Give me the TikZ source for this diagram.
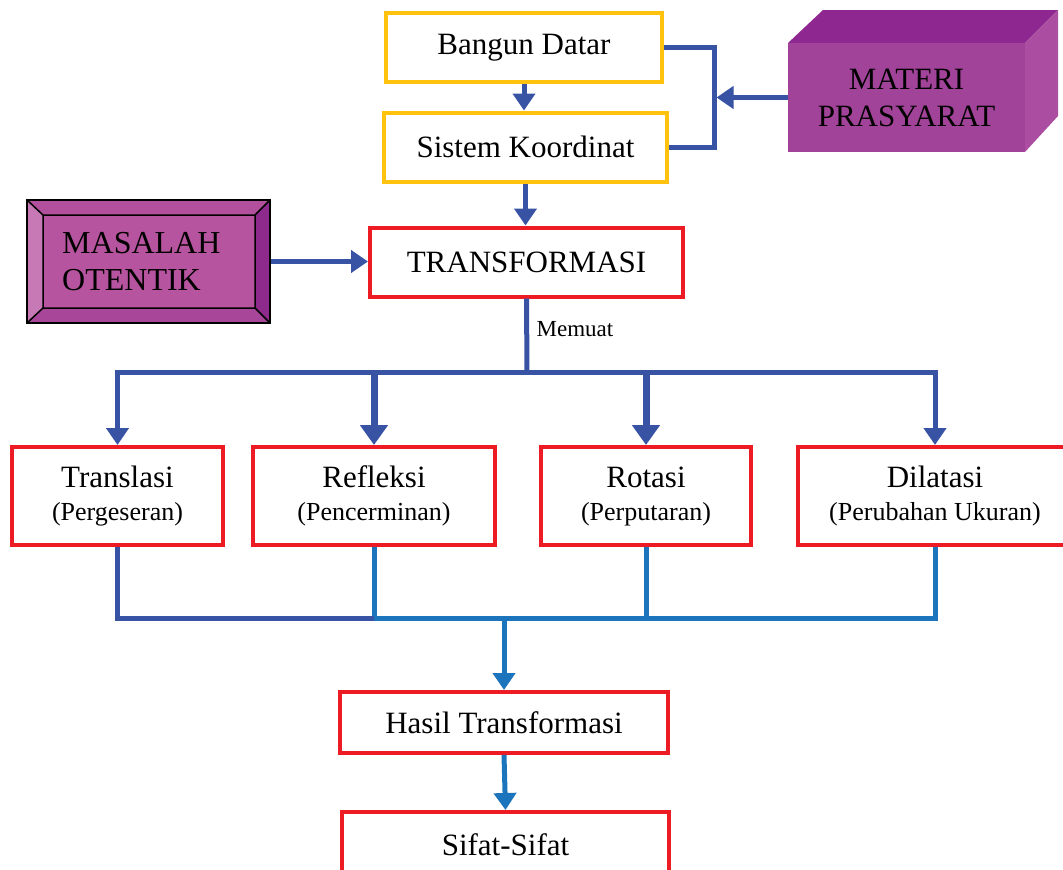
\documentclass[tikz,border=0pt]{standalone}
\usepackage{fontspec}
\setmainfont{Liberation Serif}
\usetikzlibrary{arrows.meta}
\definecolor{myyellow}{HTML}{FFC20E}
\definecolor{myred}{HTML}{ED1C24}
\definecolor{dblue}{HTML}{3953A4}
\definecolor{lblue}{HTML}{1C75BC}
\definecolor{mpfront}{HTML}{A2439A}
\definecolor{mptop}{HTML}{8E2790}
\definecolor{mpside}{HTML}{AB4DA1}
\definecolor{maface}{HTML}{B6549F}
\definecolor{maleft}{HTML}{C779B6}
\definecolor{matop}{HTML}{B3509D}
\definecolor{maright}{HTML}{8E2A8C}
\definecolor{mabottom}{HTML}{A8479A}
\tikzset{
  box/.style={draw, line width=4pt, fill=white, inner sep=0pt, align=center,
    font=\fontsize{31}{33}\selectfont},
  ybox/.style={box, draw=myyellow},
  rbox/.style={box, draw=myred},
  conn/.style={line width=5pt, draw=dblue, line join=miter},
  lconn/.style={line width=5pt, draw=lblue, line join=miter},
  arr/.style={conn, -{Triangle[width=22pt,length=17pt]}},
  bigarr/.style={conn, line width=7pt, -{Triangle[width=27pt,length=20pt]}},
  larr/.style={lconn, -{Triangle[width=22pt,length=17pt]}}
}
\begin{document}
\begin{tikzpicture}[x=1pt,y=-1pt]
\useasboundingbox (0,0) rectangle (1063,870);
\clip (0,0) rectangle (1063,870);
\fill[white] (0,0) rectangle (1063,870);

% top boxes
\node[ybox, minimum width=276, minimum height=69] (bd) at (524,47.5) {Bangun Datar};
\node[ybox, minimum width=283, minimum height=69] (sk) at (525.5,147) {Sistem Koordinat};
\node[rbox, minimum width=313, minimum height=69] (tr) at (526.5,262) {TRANSFORMASI};

% MATERI PRASYARAT (3D block)
\fill[mptop] (788,43) -- (823,10) -- (1058,10) -- (1025,43) -- cycle;
\fill[mpside] (1025,43) -- (1058,10) -- (1058,116) -- (1025,152) -- cycle;
\node[fill=mpfront, minimum width=237, minimum height=109, inner sep=0pt, align=center,
  font=\fontsize{31}{37}\selectfont] (mp) at (906.5,97.5) {MATERI\\PRASYARAT};

% MASALAH OTENTIK (bevel)
\fill[matop] (27,200) -- (270,200) -- (255,215) -- (43,215) -- cycle;
\fill[maleft] (27,200) -- (43,215) -- (43,308) -- (27,323) -- cycle;
\fill[maright] (270,200) -- (270,323) -- (255,308) -- (255,215) -- cycle;
\fill[mabottom] (27,323) -- (270,323) -- (255,308) -- (43,308) -- cycle;
\fill[maface] (43,215) rectangle (255,308);
\node[draw=black, line width=1.8pt, minimum width=243, minimum height=123, inner sep=0pt] (ma) at (148.5,261.5) {};
\draw[black, line width=1.5pt] (43,215) rectangle (255,308)
  (27,200) -- (43,215) (270,200) -- (255,215) (27,323) -- (43,308) (270,323) -- (255,308);
\node[anchor=west, align=left, inner sep=0pt, font=\fontsize{32}{37}\selectfont] (matxt) at (62,262) {MASALAH\\OTENTIK};

% second row
\node[rbox, minimum width=211, minimum height=98] (t1) at (117.5,496) {Translasi\\{\fontsize{26}{33}\selectfont(Pergeseran)}};
\node[rbox, minimum width=242, minimum height=98] (t2) at (374,496) {Refleksi\\{\fontsize{26}{33}\selectfont(Pencerminan)}};
\node[rbox, minimum width=210, minimum height=98] (t3) at (646,496) {Rotasi\\{\fontsize{26}{33}\selectfont(Perputaran)}};
\node[rbox, minimum width=274, minimum height=98] (t4) at (935,496) {Dilatasi\\{\fontsize{26}{33}\selectfont(Perubahan Ukuran)}};

% bottom boxes
\node[rbox, minimum width=328, minimum height=61] (ht) at (504,722.5) {Hasil Transformasi};
\node[rbox, minimum width=327, minimum height=66] (sf) at (505.5,845) {Sifat-Sifat};

% coordinates
\coordinate (bj) at (714,97.5);
\coordinate (bus) at (527,372);
\coordinate (bb) at (504,618);

% top connectors
\draw[arr] (bd.south) -- (bd.south |- sk.north);
\draw[arr] (sk.south) -- (sk.south |- tr.north);
\draw[conn] (bd.east) -| (bj) |- (sk.east);
\draw[arr] (mp.west) -- ([xshift=2.5pt]bj);
\draw[arr] (ma.east) -- (ma.east -| tr.west);

% distribution
\draw[conn] (tr.south) -- (bus);
\draw[conn, line cap=rect] (t1.north |- bus) -- (t4.north |- bus);
\node[inner sep=0pt, font=\fontsize{23}{26}\selectfont] (lbl) at (575,329) {Memuat};
\draw[arr] (t1.north |- bus) -- (t1.north);
\draw[bigarr] (t2.north |- bus) -- (t2.north);
\draw[bigarr] (t3.north |- bus) -- (t3.north);
\draw[arr] (t4.north |- bus) -- (t4.north);

% collection
\draw[lconn] (t2.south) |- (t4.south |- bb) -- (t4.south);
\draw[lconn] (t3.south) -- (t3.south |- bb);
\draw[conn] (t1.south) |- (t2.south |- bb);
\draw[larr] (bb) -- (ht.north);
\draw[larr] (ht.south) -- (sf.north);
\end{tikzpicture}
\end{document}
